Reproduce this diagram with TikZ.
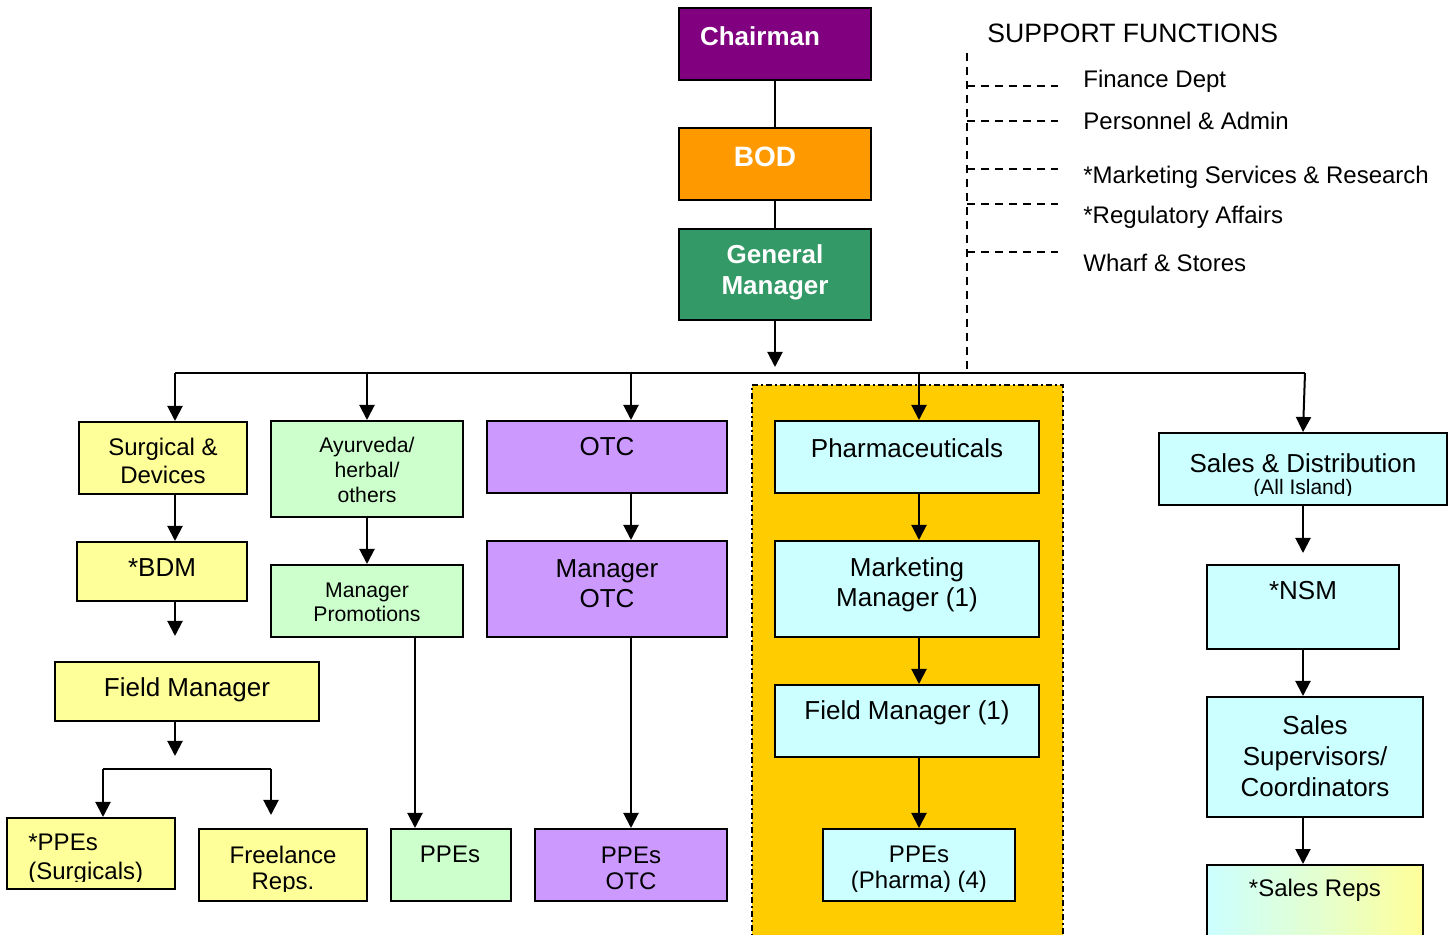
\documentclass[tikz,border=0pt]{standalone}
\usepackage{fontspec}
\setmainfont{Liberation Sans}
\usetikzlibrary{arrows.meta,fit}
\definecolor{chairc}{HTML}{800080}
\definecolor{bodc}{HTML}{FF9900}
\definecolor{gmc}{HTML}{339966}
\definecolor{yelc}{HTML}{FFFF99}
\definecolor{grnc}{HTML}{CCFFCC}
\definecolor{lavc}{HTML}{CC99FF}
\definecolor{cyac}{HTML}{CCFFFF}
\definecolor{regc}{HTML}{FFCC00}
\begin{document}
\begin{tikzpicture}[x=0.5pt,y=-0.5pt,
  box/.style={draw=black, line width=1pt, inner sep=0pt},
  conn/.style={line width=1pt},
  arr/.style={conn, -{Triangle[width=7.5pt,length=7.5pt]}},
  sdash/.style={line width=0.8pt, dash pattern=on 4pt off 3pt},
  txt/.style={align=center, inner sep=0pt},
  f13/.style={font=\fontsize{13}{15}\selectfont},
  f12/.style={font=\fontsize{12}{13}\selectfont},
  fsm/.style={font=\fontsize{10.6}{12.5}\selectfont},
  btxt/.style={txt, text=white, font=\bfseries\fontsize{13}{15.5}\selectfont}]
\clip (0,0) rectangle (1453,935);
% shaded region
\path[fill=regc] (752,385) rectangle (1063,945);
\draw[line width=1pt, dash pattern=on 3pt off 1.5pt on 1pt off 1.5pt] (752,945) -- (752,385) -- (1063,385) -- (1063,945);

% top chain
\node[box, fill=chairc, fit={(679,8) (871,80)}] (chair) {};
\node[btxt] (chairT) at (760,36) {Chairman};
\node[box, fill=bodc, fit={(679,128) (871,200)}] (bod) {};
\node[btxt, font=\bfseries\fontsize{14}{16}\selectfont] (bodT) at (765,157) {BOD};
\node[box, fill=gmc, fit={(679,229) (871,320)}] (gm) {};
\node[btxt] (gmT) at (775,272) {General\\Manager};
\draw[conn] (chair) -- (bod);
\draw[conn] (bod) -- (gm);
\coordinate (gmEnd) at (775,367);
\draw[arr] (gm) -- (gmEnd);

% bus
\coordinate (busL) at (175,373);
\coordinate (busR) at (1305,373);
\coordinate (busA) at (367,373);
\coordinate (busO) at (631,373);
\coordinate (busP) at (919,373);
\coordinate (x415) at (415,0);
\draw[conn] (busL) -- (busR);

% Surgical column
\node[box, fill=yelc, fit={(79,422) (247,494)}] (surg) {};
\node[txt, font=\fontsize{12}{14}\selectfont] (surgT) at (163,461) {Surgical \&\\Devices};
\node[box, fill=yelc, fit={(77,542) (247,601)}] (bdm) {};
\node[txt, f13] (bdmT) at (162,568) {*BDM};
\node[box, fill=yelc, fit={(55,662) (319,721)}] (fm) {};
\node[txt, f13] (fmT) at (187,690) {Field Manager};
\node[box, fill=yelc, fit={(7,818) (175,889)}] (pps) {};
\begin{scope}
\clip (7,818) rectangle (175,881);
\node[txt, align=left, anchor=west, font=\fontsize{12}{14.5}\selectfont] (ppsT) at (28,859) {*PPEs\\(Surgicals)};
\end{scope}
\node[box, fill=yelc, fit={(199,829) (367,901)}] (free) {};
\begin{scope}
\clip (199,829) rectangle (367,891);
\node[txt, f12] (freeT) at (283,870) {Freelance\\Reps.};
\end{scope}
\draw[arr] (busL) -- (surg.north -| busL);
\draw[arr] (surg.south -| busL) -- (bdm.north -| busL);
\coordinate (bdmEnd) at (175,636);
\draw[arr] (bdm.south -| busL) -- (bdmEnd);
\coordinate (fmEnd) at (175,756);
\draw[arr] (fm.south -| busL) -- (fmEnd);
\coordinate (brL) at (103,769);
\coordinate (brR) at (271,769);
\coordinate (brREnd) at (271,815);
\draw[conn] (brL) -- (brR);
\draw[arr] (brL) -- (pps.north -| brL);
\draw[arr] (brR) -- (brREnd);

% Ayurveda column
\node[box, fill=grnc, fit={(271,421) (463,517)}] (ayu) {};
\node[txt, fsm] (ayuT) at (367,470) {Ayurveda/\\herbal/\\others};
\node[box, fill=grnc, fit={(271,565) (463,637)}] (mp) {};
\node[txt, font=\fontsize{10.6}{12}\selectfont] (mpT) at (367,602) {Manager\\Promotions};
\node[box, fill=grnc, fit={(391,829) (511,901)}] (ppg) {};
\node[txt, f12] (ppgT) at (450,854) {PPEs};
\draw[arr] (busA) -- (ayu.north);
\draw[arr] (ayu) -- (mp);
\draw[arr] (mp.south -| x415) -- (ppg.north -| x415);

% OTC column
\node[box, fill=lavc, fit={(487,421) (727,493)}] (otc) {};
\node[txt, f13] (otcT) at (607,447) {OTC};
\node[box, fill=lavc, fit={(487,541) (727,637)}] (motc) {};
\node[txt, f13] (motcT) at (607,584) {Manager\\OTC};
\node[box, fill=lavc, fit={(535,829) (727,901)}] (potc) {};
\node[txt, f12] (potcT) at (631,868) {PPEs\\OTC};
\draw[arr] (busO) -- (otc.north -| busO);
\draw[arr] (otc.south -| busO) -- (motc.north -| busO);
\draw[arr] (motc.south -| busO) -- (potc.north);

% Pharma column
\node[box, fill=cyac, fit={(775,421) (1039,493)}] (ph) {};
\node[txt, f13] (phT) at (907,448) {Pharmaceuticals};
\node[box, fill=cyac, fit={(775,541) (1039,637)}] (mm) {};
\node[txt, f13] (mmT) at (907,585) {Marketing\\Manager (1)};
\node[box, fill=cyac, fit={(775,685) (1039,757)}] (fm1) {};
\node[txt, f13] (fm1T) at (907,713) {Field Manager (1)};
\node[box, fill=cyac, fit={(823,829) (1015,901)}] (pph) {};
\begin{scope}
\clip (823,829) rectangle (1015,891);
\node[txt, f12] (pphT) at (919,870) {PPEs\\(Pharma) (4)};
\end{scope}
\draw[arr] (busP) -- (ph.north -| busP);
\draw[arr] (ph.south -| busP) -- (mm.north -| busP);
\draw[arr] (mm.south -| busP) -- (fm1.north -| busP);
\draw[arr] (fm1.south -| busP) -- (pph.north);

% Sales column
\node[box, fill=cyac, fit={(1159,433) (1447,505)}] (sd) {};
\begin{scope}
\clip (1159,433) rectangle (1447,496);
\node[txt] (sdT) at (1303,476) {{\fontsize{13}{15}\selectfont Sales \& Distribution}\\[-1pt]{\fontsize{10.5}{12}\selectfont (All Island)}};
\end{scope}
\node[box, fill=cyac, fit={(1207,565) (1399,649)}] (nsm) {};
\node[txt, f13] (nsmT) at (1303,591) {*NSM};
\node[box, fill=cyac, fit={(1207,697) (1423,817)}] (ssc) {};
\node[txt, font=\fontsize{13}{15.5}\selectfont] (sscT) at (1315,756) {Sales\\Supervisors/\\Coordinators};
\node[box, left color=cyac, right color=yelc, middle color=cyac!55!yelc, fit={(1207,865) (1423,950)}] (srep) {};
\node[txt, f12] (srepT) at (1315,890) {*Sales Reps};
\draw[arr] (busR) -- (sd.north);
\coordinate (sdEnd) at (1303,553);
\draw[arr] (sd.south) -- (sdEnd);
\draw[arr] (nsm.south) -- (ssc.north -| nsm.south);
\draw[arr] (ssc.south -| nsm.south) -- (srep.north -| nsm.south);

% support functions
\node[anchor=base west, inner sep=0pt, font=\fontsize{13.3}{15}\selectfont] (supT) at (987,43) {SUPPORT FUNCTIONS};
\coordinate (sTop) at (967,53);
\coordinate (sBot) at (967,370);
\draw[sdash] (sTop) -- (sBot);
\foreach \yy/\nm/\tx/\by in {86/fin/Finance Dept/88, 121/per/Personnel \& Admin/130, 169/mkt/*Marketing Services \& Research/184, 204/reg/*Regulatory Affairs/224, 252/wha/Wharf \& Stores/272}{
  \coordinate (\nm L) at (967,\yy);
  \coordinate (\nm R) at (1058,\yy);
  \draw[sdash] (\nm L) -- (\nm R);
  \node[anchor=base west, inner sep=0pt, font=\fontsize{12}{14}\selectfont] (\nm T) at (1083,\by) {\tx};
}
\end{tikzpicture}
\end{document}
